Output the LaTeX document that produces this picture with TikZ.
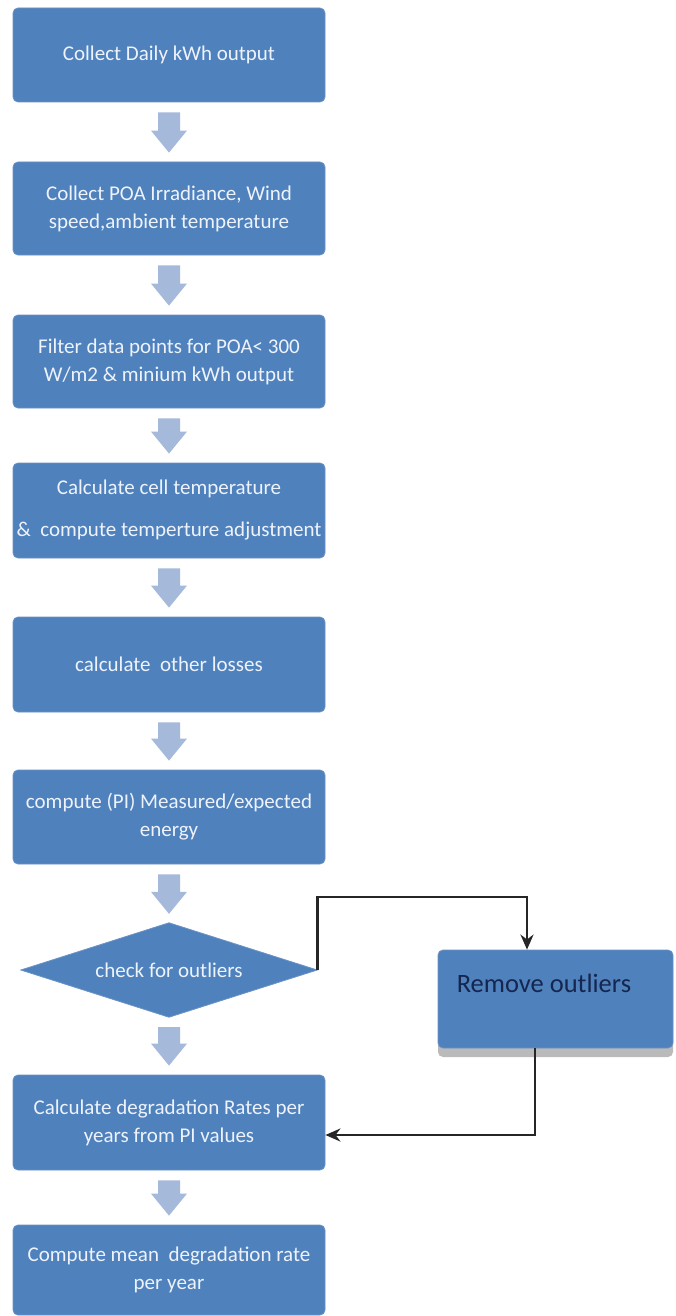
\documentclass[tikz,border=0pt]{standalone}
\usepackage{fontspec}
\setmainfont{Carlito}
\usetikzlibrary{shapes.geometric,arrows.meta,calc,shadows}
\definecolor{boxblue}{HTML}{4F81BD}
\definecolor{boxedge}{HTML}{6B93C6}
\definecolor{arrowblue}{HTML}{A5B9DA}
\definecolor{textwhite}{HTML}{EEF3FB}
\definecolor{navy}{HTML}{15264F}
\definecolor{linegray}{HTML}{262626}
\tikzset{
 stepbox/.style={rectangle, rounded corners=5pt, fill=boxblue, draw=boxedge, line width=0.8pt, minimum width=312pt, inner sep=0pt, align=center, text=textwhite, font=\fontsize{21}{28}\selectfont},
 decide/.style={rectangle, minimum width=296pt, minimum height=94pt, inner sep=0pt, text=textwhite, font=\fontsize{21}{28}\selectfont},
 decidefill/.style={fill=boxblue, draw=boxedge, line width=0.8pt},
 conn/.style={draw=linegray, line width=2.8pt, -{Stealth[length=15pt,width=13pt]}},
 blockarrow/.style={fill=arrowblue},
}
\newcommand{\barrow}[2]{\fill[blockarrow] let \p1=(#1.south), \p2=(#2.north) in (\x1-11pt,\y1-10pt) -- (\x1+11pt,\y1-10pt) -- (\x1+11pt,\y2+31pt) -- (\x1+18pt,\y2+31pt) -- (\x1,\y2+9pt) -- (\x1-18pt,\y2+31pt) -- (\x1-11pt,\y2+31pt) -- cycle;}
\begin{document}
\begin{tikzpicture}[x=1pt,y=-1pt]
\fill[white] (0,0) rectangle (675,1316);
\useasboundingbox (0,0) rectangle (675,1316);
\node[stepbox, minimum height=94pt] (b1) at (169,55) {Collect Daily kWh output};
\node[stepbox, minimum height=93pt] (b2) at (169,208.5) {Collect POA Irradiance, Wind\\speed,ambient temperature};
\node[stepbox, minimum height=93pt] (b3) at (169,361.5) {Filter data points for POA< 300\\W/m2 \& minium kWh output};
\node[stepbox, minimum height=95pt] (b4) at (169,510.5) {Calculate cell temperature\\[14pt]\&~ compute temperture adjustment};
\node[stepbox, minimum height=95pt] (b5) at (169,664.5) {calculate~ other losses};
\node[stepbox, minimum height=94pt] (b6) at (169,817) {compute (PI) Measured/expected\\energy};
\node[decide] (d) at (169,970) {};
\filldraw[decidefill] (d.north) -- (d.east) -- (d.south) -- (d.west) -- cycle;
\node[text=textwhite, font=\fontsize{21}{28}\selectfont, inner sep=0pt] (dt) at (d.center) {check for outliers};
\node[stepbox, minimum height=95pt] (b7) at (169,1122.5) {Calculate degradation Rates per\\years from PI values};
\node[stepbox, minimum height=90pt] (b8) at (169,1270) {Compute mean~ degradation rate\\per year};
\node[stepbox, minimum width=235pt, minimum height=98pt, drop shadow={shadow xshift=0pt,shadow yshift=-9pt,fill=black!45,opacity=0.6}] (r) at (555.5,999) {};
\node[anchor=west, text=navy, font=\fontsize{26.5}{30}\selectfont, inner sep=0pt] (rt) at ($(r.west)+(19,-16)$) {Remove outliers};
\barrow{b1}{b2}
\barrow{b2}{b3}
\barrow{b3}{b4}
\barrow{b4}{b5}
\barrow{b5}{b6}
\barrow{b6}{d}
\barrow{d}{b7}
\barrow{b7}{b8}
\draw[conn] (d.east) -- ++(0,-73) -| ([xshift=-28.5pt]r.north);
\draw[conn] ([xshift=-20.5pt]r.south) |- ([yshift=-12.5pt]b7.east);
\end{tikzpicture}
\end{document}
